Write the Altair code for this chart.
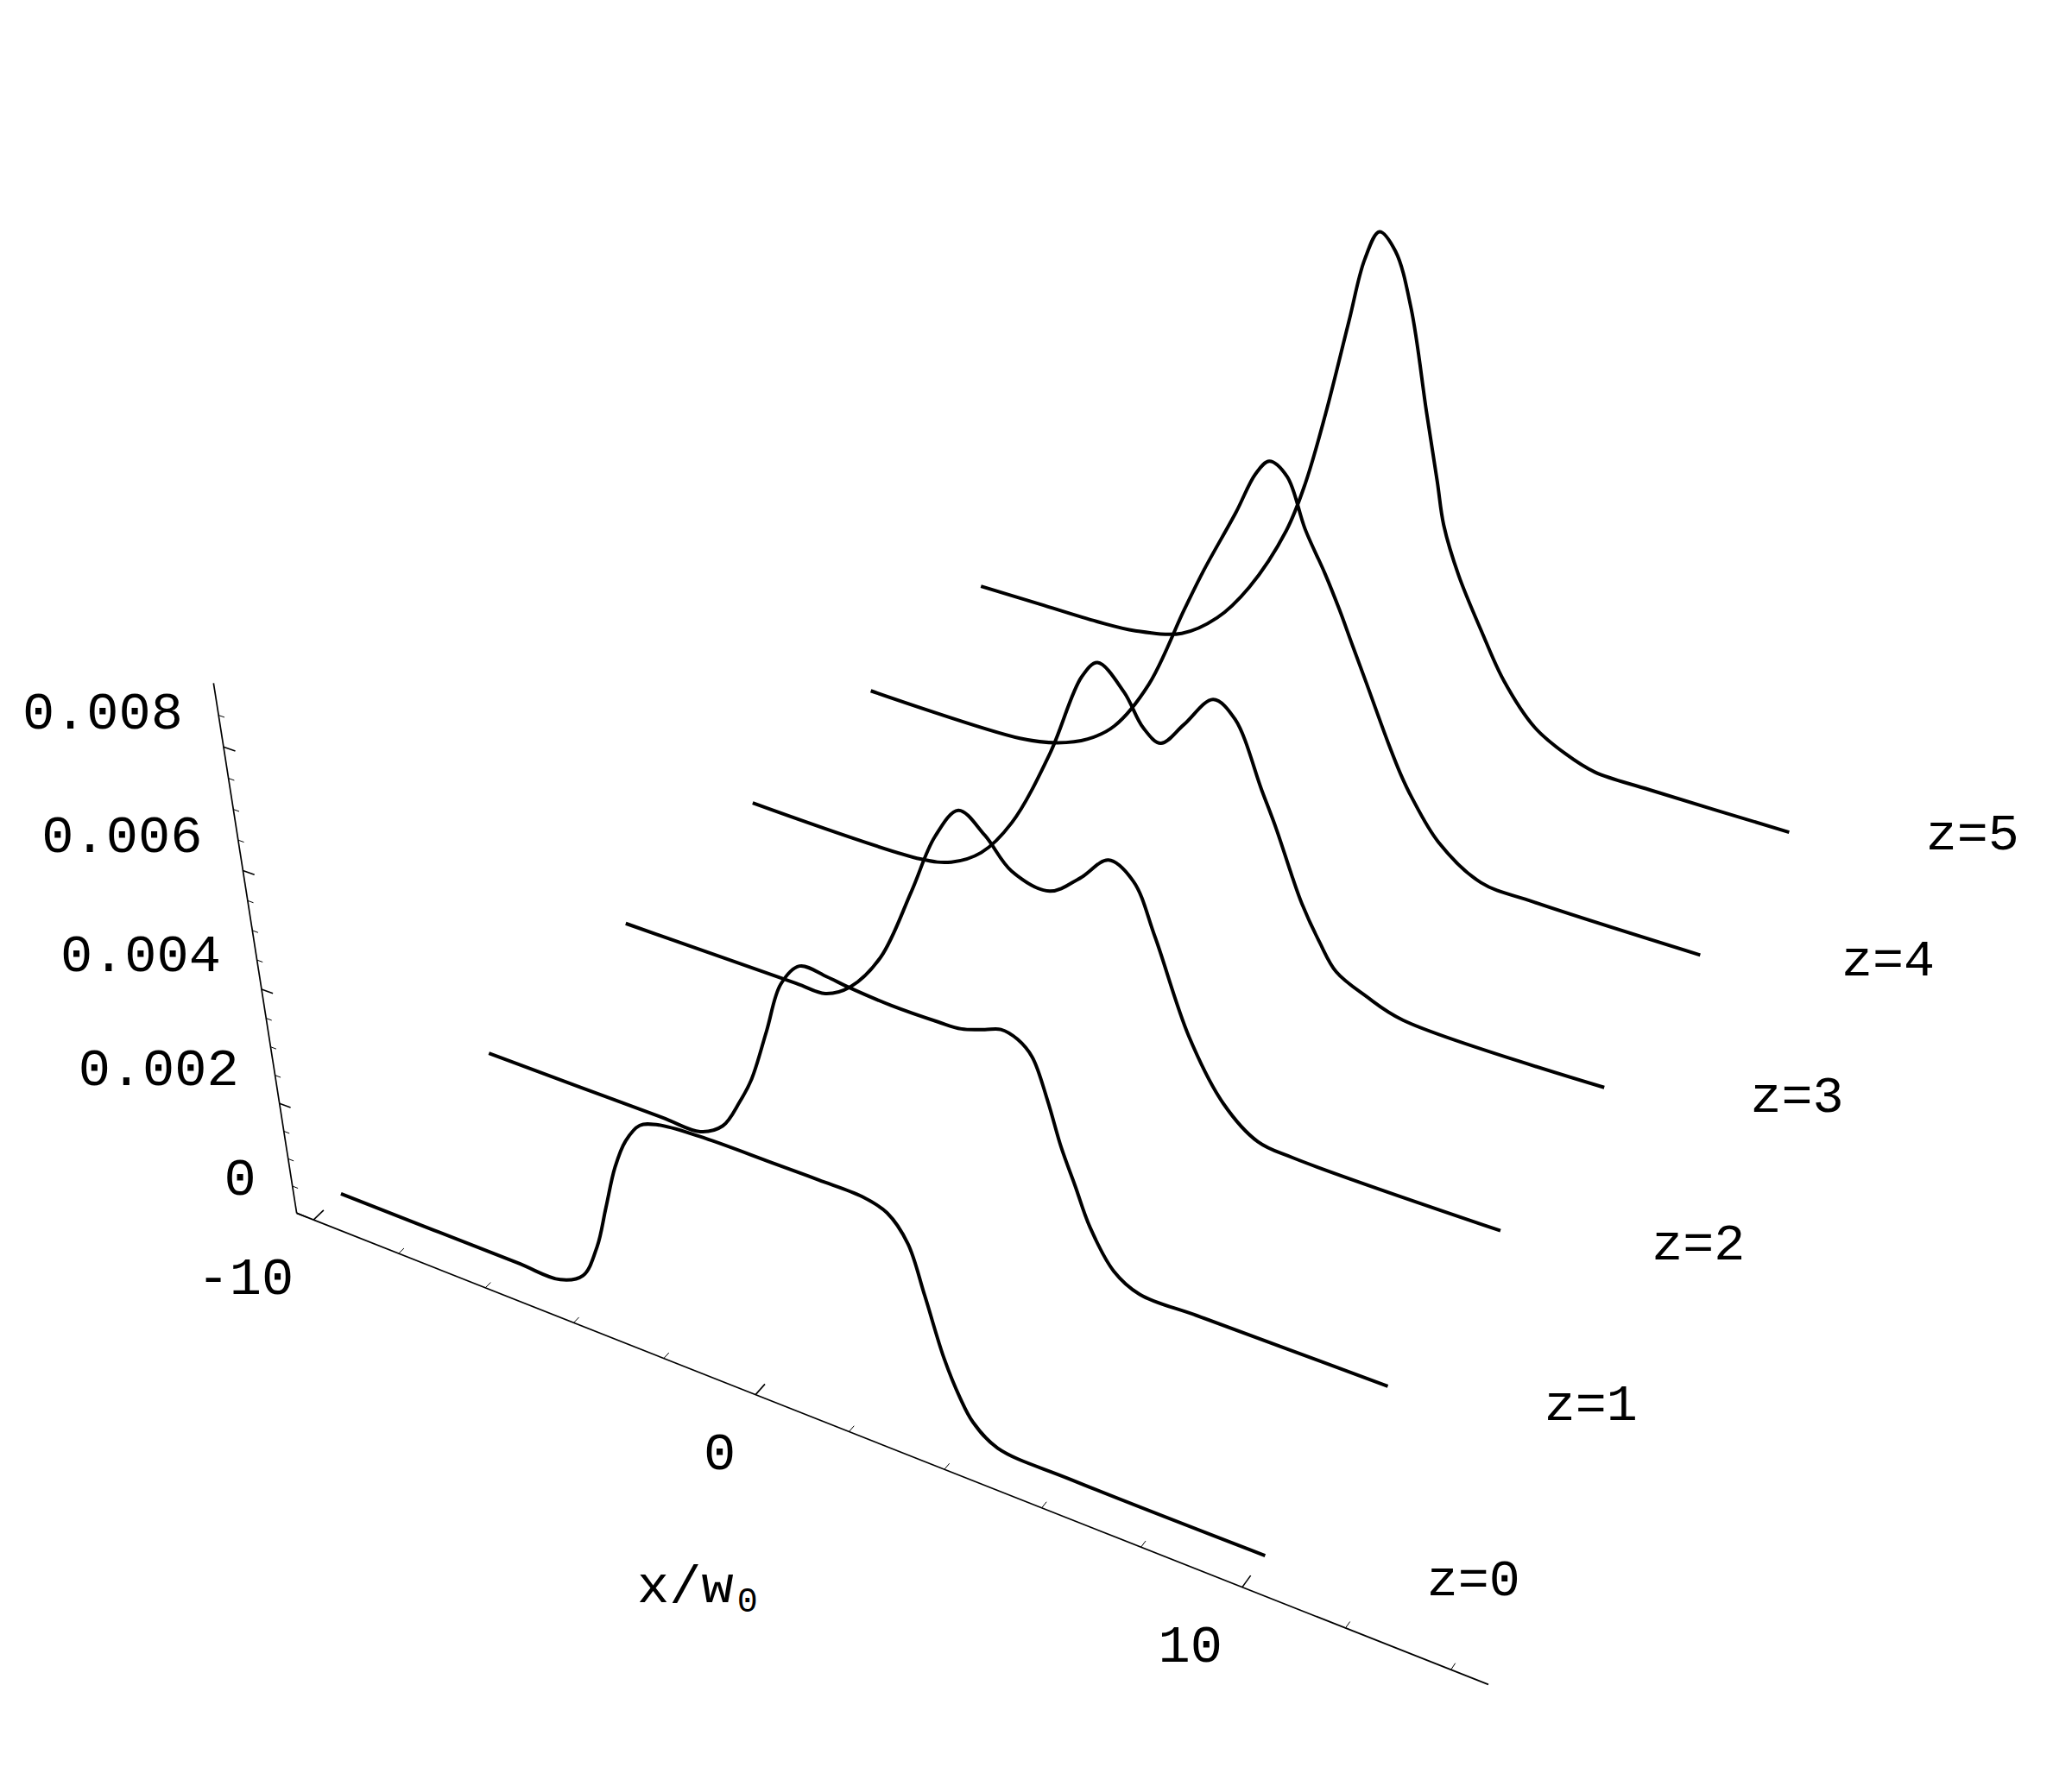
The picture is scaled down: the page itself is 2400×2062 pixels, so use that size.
import numpy as np
import pandas as pd
import altair as alt

# ---------------- data ----------------
Z_LEVELS = [0, 1, 2, 3, 4, 5]

# x/w0 positions and intensity (units of 1e-3) for each propagation distance z
X_Z0 = [-10, -5.9, -4.9, -4.35, -3.95, -3.65, -3.35, -3.05, -2.7, -2.3, -1.4, 0.1, 1.1, 2.0, 2.5, 2.9, 3.2, 3.55, 3.85, 4.1, 4.6, 6.1, 10]
H_Z0 = [0, 0, 0, 0.25, 0.9, 1.7, 2.5, 3.05, 3.42, 3.55, 3.62, 3.63, 3.63, 3.62, 3.5, 3.1, 2.3, 1.3, 0.7, 0.35, 0.05, 0, 0]

X_Z1 = [-10, -5.86, -4.96, -4.41, -3.96, -3.64, -3.21, -2.81, -2.36, -1.76, -1.31, -0.36, 0.64, 1.14, 1.64, 1.99, 2.34, 2.64, 2.94, 3.21, 3.49, 3.79, 4.29, 4.84, 6.14, 10]
H_Z1 = [0, 0, 0, 0.27, 0.85, 1.36, 2.35, 3.29, 3.73, 3.71, 3.66, 3.6, 3.6, 3.62, 3.75, 3.85, 3.78, 3.56, 2.9, 2.15, 1.55, 0.9, 0.25, 0, 0, 0]

X_Z2 = [-10, -5.82, -5.12, -4.5, -3.73, -2.93, -2.33, -1.77, -1.19, -0.61, 0.23, 0.9, 1.54, 2.08, 2.54, 3.28, 4.04, 4.8, 5.58, 10]
H_Z2 = [0, 0, 0, 0.3, 1.07, 2.49, 3.63, 4.24, 3.95, 3.47, 3.34, 3.74, 4.23, 4.0, 3.15, 1.56, 0.55, 0.07, 0, 0]

X_Z3 = [-10, -5.79, -5.02, -4.27, -3.5, -2.54, -1.77, -1.4, -0.8, -0.37, 0.03, 0.55, 1.21, 1.7, 2.31, 2.65, 3.01, 3.25, 3.66, 4.05, 4.73, 5.58, 10]
H_Z3 = [0, 0, 0.14, 0.52, 1.29, 2.83, 4.39, 4.73, 4.35, 3.82, 3.64, 4.1, 4.71, 4.48, 3.37, 2.75, 2.0, 1.54, 0.94, 0.49, 0.22, 0, 0]

X_Z4 = [-10, -6.16, -5.2, -4.44, -3.77, -2.91, -2.05, -1.58, -0.84, -0.4, -0.09, 0.32, 0.75, 1.22, 1.57, 1.87, 2.23, 2.79, 3.09, 3.35, 4.01, 5.02, 6.24, 10]
H_Z4 = [0, 0, 0.15, 0.41, 0.83, 1.84, 3.44, 4.28, 5.48, 6.25, 6.54, 6.36, 5.53, 4.85, 4.28, 3.74, 3.1, 2.09, 1.6, 1.25, 0.56, 0.05, 0, 0]

X_Z5 = [-10, -8.43, -6.93, -5.93, -4.73, -3.83, -3.03, -2.13, -1.68, -1.23, -0.73, -0.4, -0.08, 0.3, 0.7, 1.14, 1.45, 1.64, 2.04, 2.63, 3.22, 4.0, 4.76, 5.47, 6.77, 10]
H_Z5 = [0, 0, 0, 0.05, 0.28, 0.80, 1.58, 2.87, 3.87, 5.24, 7.0, 8.15, 8.69, 8.43, 7.52, 5.77, 4.58, 3.82, 2.97, 2.06, 1.24, 0.53, 0.2, 0.02, 0, 0]

CURVE_X = [X_Z0, X_Z1, X_Z2, X_Z3, X_Z4, X_Z5]
CURVE_H = [H_Z0, H_Z1, H_Z2, H_Z3, H_Z4, H_Z5]

X_TICKS_MAJOR = [-10, 0, 10]
X_TICK_LABELS = ["-10", "0", "10"]
X_TICKS_MINOR = [-8, -6, -4, -2, 2, 4, 6, 8, 12, 14]
H_TICKS_MAJOR = [0.0, 0.002, 0.004, 0.006, 0.008]
H_TICK_LABELS = ["0", "0.002", "0.004", "0.006", "0.008"]
H_TICKS_MINOR = [0.0005, 0.001, 0.0015, 0.0025, 0.003, 0.0035, 0.0045, 0.005,
                 0.0055, 0.0065, 0.007, 0.0075, 0.0085]
Z_LABELS = ["z=0", "z=1", "z=2", "z=3", "z=4", "z=5"]
X_TITLE = "x/w"
X_TITLE_SUB = "0"

# ---------------- 3D box and camera ----------------
VIEWPOINT = np.array([1.3, -2.4, 2.0])
X_BOX = (-10.4, 14.7)          # x/w0 range of the box
Z_BOX = (-0.177, 5.037)        # propagation range of the box
H_BOX = (0.0, 0.009)           # intensity range of the box
BOX_BOTTOM, BOX_HEIGHT = -0.2, 0.4817
LABEL_X, LABEL_H = 13.95, 0.00115

W, H = 2384, 2046
SCALE_X, SCALE_Y = 5090.8, 5142.8
ORIGIN_X, ORIGIN_Y = 1368.9, 965.5

fwd = -VIEWPOINT / np.linalg.norm(VIEWPOINT)
right = np.cross(fwd, [0.0, 0.0, 1.0]); right = right / np.linalg.norm(right)
up = np.cross(right, fwd)


def project(ch, xe, ze, he, px, py):
    t = px + "_"
    ch = ch.transform_calculate(**{t + "a": f"-0.5 + (({xe}) - ({X_BOX[0]})) / {X_BOX[1] - X_BOX[0]} - ({VIEWPOINT[0]})"})
    ch = ch.transform_calculate(**{t + "q": f"-0.5 + (({ze}) - ({Z_BOX[0]})) / {Z_BOX[1] - Z_BOX[0]} - ({VIEWPOINT[1]})"})
    ch = ch.transform_calculate(**{t + "c": f"{BOX_BOTTOM} + {BOX_HEIGHT} * (({he}) - {H_BOX[0]}) / {H_BOX[1] - H_BOX[0]} - ({VIEWPOINT[2]})"})

    def dot(v):
        return f"(({v[0]})*datum.{t}a + ({v[1]})*datum.{t}q + ({v[2]})*datum.{t}c)"

    ch = ch.transform_calculate(**{px: f"{ORIGIN_X} + {SCALE_X} * {dot(right)} / {dot(fwd)}"})
    ch = ch.transform_calculate(**{py: f"{ORIGIN_Y} - {SCALE_Y} * {dot(up)} / {dot(fwd)}"})
    return ch


XS = alt.Scale(domain=[0, W], nice=False, zero=False)
YS = alt.Scale(domain=[0, H], reverse=True, nice=False, zero=False)
EX = alt.X("px:Q", scale=XS, axis=None)
EY = alt.Y("py:Q", scale=YS, axis=None)

# ---------------- tables ----------------
curve_rows = []
for k, xs, hs in zip(Z_LEVELS, CURVE_X, CURVE_H):
    for xv, hv in zip(xs, hs):
        curve_rows.append({"zl": k, "x": xv, "z": k, "h": hv * 1e-3})
curve_df = pd.DataFrame(curve_rows)

axis_df = pd.DataFrame([
    {"seg": "x", "i": 0, "x": X_BOX[0], "h": H_BOX[0]},
    {"seg": "x", "i": 1, "x": X_BOX[1], "h": H_BOX[0]},
    {"seg": "v", "i": 0, "x": X_BOX[0], "h": H_BOX[0]},
    {"seg": "v", "i": 1, "x": X_BOX[0], "h": H_BOX[1]},
])

xtick_df = pd.DataFrame([{"x": v, "len": 0.065, "w": 1.6} for v in X_TICKS_MAJOR] +
                        [{"x": v, "len": 0.035, "w": 1.0} for v in X_TICKS_MINOR])
htick_df = pd.DataFrame([{"h": v, "len": 0.26, "w": 1.6} for v in H_TICKS_MAJOR] +
                        [{"h": v, "len": 0.13, "w": 1.0} for v in H_TICKS_MINOR])
xlab_df = pd.DataFrame({"x": X_TICKS_MAJOR, "label": X_TICK_LABELS})
hlab_df = pd.DataFrame({"h": H_TICKS_MAJOR, "label": H_TICK_LABELS})
zlab_df = pd.DataFrame({"z": Z_LEVELS, "label": Z_LABELS})
title_df = pd.DataFrame({"x": [(X_BOX[0] + X_BOX[1]) / 2], "label": [X_TITLE], "sub": [X_TITLE_SUB]})

za = Z_BOX[0]
xa = X_BOX[0]

# ---------------- layers ----------------
curves = project(alt.Chart(curve_df), "datum.x", "datum.z", "datum.h", "px", "py").mark_line(
    color="black", strokeWidth=4.0, interpolate="catmull-rom", strokeJoin="round", strokeCap="butt"
).encode(x=EX, y=EY, detail="zl:N", order=alt.Order("x:Q"))

axes = project(alt.Chart(axis_df), "datum.x", str(za), "datum.h", "px", "py").mark_line(
    color="black", strokeWidth=1.7
).encode(x=EX, y=EY, detail="seg:N", order=alt.Order("i:Q"))

xt = project(alt.Chart(xtick_df), "datum.x", str(za), "0", "px", "py")
xt = project(xt, "datum.x", f"{za} + datum.len", "0", "px2", "py2")
xticks = xt.mark_rule(color="black").encode(
    x=EX, y=EY, x2="px2:Q", y2="py2:Q",
    strokeWidth=alt.StrokeWidth("w:Q", scale=None, legend=None))

ht = project(alt.Chart(htick_df), str(xa), str(za), "datum.h", "px", "py")
ht = project(ht, f"{xa} + datum.len", str(za), "datum.h", "px2", "py2")
hticks = ht.mark_rule(color="black").encode(
    x=EX, y=EY, x2="px2:Q", y2="py2:Q",
    strokeWidth=alt.StrokeWidth("w:Q", scale=None, legend=None))

FONT = "Liberation Mono"
xlabels = project(alt.Chart(xlab_df), "datum.x", str(za), "0", "px", "py").mark_text(
    align="right", baseline="middle", dx=-23, dy=67, font=FONT, fontSize=62, color="black"
).encode(x=EX, y=EY, text="label:N")

hlabels = project(alt.Chart(hlab_df), str(xa), str(za), "datum.h", "px", "py").mark_text(
    align="right", baseline="middle", dx=-47, dy=-40, font=FONT, fontSize=62, color="black"
).encode(x=EX, y=EY, text="label:N")

zlabels = project(alt.Chart(zlab_df), str(LABEL_X), "datum.z", str(LABEL_H), "px", "py").mark_text(
    align="center", baseline="middle", dy=10, font=FONT, fontSize=60, color="black"
).encode(x=EX, y=EY, text="label:N")

tbase = project(alt.Chart(title_df), "datum.x", str(za), "0", "px", "py")
title_main = tbase.mark_text(
    align="right", baseline="middle", dx=-142, dy=175, font=FONT, fontSize=62, color="black"
).encode(x=EX, y=EY, text="label:N")
title_sub = tbase.mark_text(
    align="left", baseline="middle", dx=-138, dy=193, font=FONT, fontSize=40, color="black"
).encode(x=EX, y=EY, text="sub:N")

chart = alt.layer(
    curves, axes, xticks, hticks, xlabels, hlabels, zlabels, title_main, title_sub
).properties(
    width=W, height=H, autosize=alt.AutoSizeParams(type="none"), padding=0
).configure_view(strokeWidth=0)

chart.save("out.html", embed_options={"renderer": "svg", "actions": False})
